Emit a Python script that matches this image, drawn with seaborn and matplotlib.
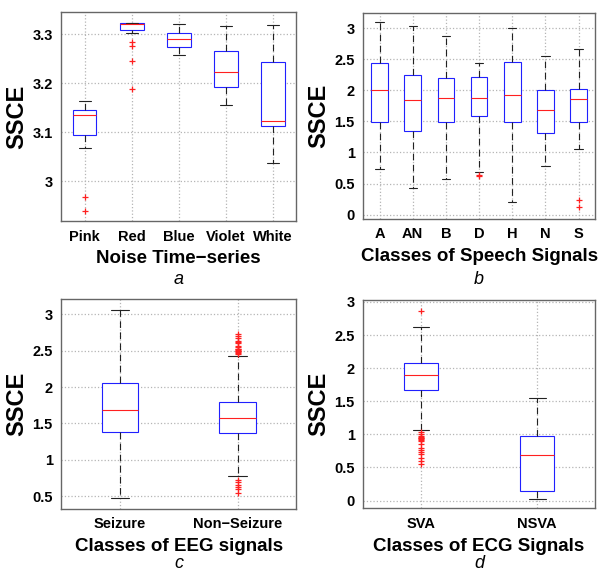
import matplotlib

matplotlib.use("Agg")
import matplotlib.pyplot as plt
import pandas as pd
import seaborn as sns
from matplotlib.ticker import FormatStrFormatter, MultipleLocator

# box statistics: lower whisker, q1, median, q3, upper whisker, outliers
NOISE_CATS = ["Pink", "Red", "Blue", "Violet", "White"]
NOISE_LO = [3.068, 3.303, 3.257, 3.156, 3.037]
NOISE_Q1 = [3.094, 3.309, 3.273, 3.192, 3.113]
NOISE_MED = [3.134, 3.321, 3.290, 3.222, 3.123]
NOISE_Q3 = [3.146, 3.323, 3.303, 3.265, 3.242]
NOISE_HI = [3.164, 3.323, 3.320, 3.316, 3.318]
NOISE_OUT = [[2.967, 2.938], [3.284, 3.275, 3.245, 3.188], [], [], []]

SPEECH_CATS = ["A", "AN", "B", "D", "H", "N", "S"]
SPEECH_LO = [0.73, 0.42, 0.57, 0.69, 0.20, 0.78, 1.05]
SPEECH_Q1 = [1.49, 1.35, 1.49, 1.59, 1.49, 1.31, 1.49]
SPEECH_MED = [2.00, 1.85, 1.88, 1.88, 1.93, 1.68, 1.86]
SPEECH_Q3 = [2.44, 2.25, 2.20, 2.21, 2.46, 2.00, 2.03]
SPEECH_HI = [3.11, 3.04, 2.88, 2.45, 3.00, 2.56, 2.67]
SPEECH_OUT = [[], [], [], [0.64, 0.62], [], [], [0.24, 0.12]]

EEG_CATS = ["Seizure", "Non\u2212Seizure"]
EEG_LO = [0.47, 0.78]
EEG_Q1 = [1.385, 1.37]
EEG_MED = [1.68, 1.58]
EEG_Q3 = [2.06, 1.795]
EEG_HI = [3.065, 2.425]
EEG_OUT = [
    [],
    [2.46, 2.47, 2.48, 2.49, 2.50, 2.51, 2.52, 2.53, 2.55, 2.57, 2.60,
     2.62, 2.64, 2.67, 2.70, 2.73, 0.72, 0.69, 0.66, 0.63, 0.60, 0.55],
]

ECG_CATS = ["SVA", "NSVA"]
ECG_LO = [1.07, 0.025]
ECG_Q1 = [1.674, 0.141]
ECG_MED = [1.896, 0.681]
ECG_Q3 = [2.083, 0.968]
ECG_HI = [2.617, 1.548]
ECG_OUT = [
    [2.864, 1.03, 1.00, 0.98, 0.96, 0.95, 0.94, 0.93, 0.92, 0.90,
     0.85, 0.80, 0.77, 0.73, 0.70, 0.65, 0.60, 0.56],
    [],
]


def stats_table(cats, lo, q1, med, q3, hi, out, rep=200):
    # rebuild a long table whose quartiles and whiskers equal the read values
    rows = []
    for i, cat in enumerate(cats):
        vals = [lo[i]] + [q1[i]] * rep + [med[i]] * rep + [q3[i]] * rep + [hi[i]] + list(out[i])
        rows += [(cat, v) for v in vals]
    return pd.DataFrame(rows, columns=["group", "value"])


def draw_panel(ax, df, cats, width, ylim, step, xlabel, letter, letter_y):
    sns.boxplot(
        data=df, x="group", y="value", order=cats, ax=ax,
        width=width, whis=1.5, color="white", linecolor="black", linewidth=0.8,
        boxprops={"edgecolor": "#2020ff"},
        medianprops={"color": "#ff2020"},
        whiskerprops={"color": "#222222", "linestyle": (0, (6, 4))},
        capprops={"color": "#222222"},
        flierprops={"marker": "+", "markeredgecolor": "#ff2020", "markerfacecolor": "#ff2020",
                    "markersize": 5, "markeredgewidth": 0.9},
    )
    ax.set_xlim(-0.5, len(cats) - 0.5)
    ax.set_ylim(*ylim)
    ax.yaxis.set_major_locator(MultipleLocator(step))
    ax.yaxis.set_major_formatter(FormatStrFormatter("%g"))
    ax.grid(True, linestyle=":", color="#b5b5b5", linewidth=0.9)
    ax.set_axisbelow(True)
    for sp in ax.spines.values():
        sp.set_visible(True)
        sp.set_color("#666666")
        sp.set_linewidth(1.0)
    ax.tick_params(length=0, labelsize=10.5, pad=6, labelcolor="black")
    for lab in ax.get_xticklabels() + ax.get_yticklabels():
        lab.set_fontweight("bold")
    ax.set_ylabel("SSCE", fontsize=17, fontweight="bold", labelpad=3, color="black")
    ax.set_xlabel(xlabel, fontsize=13.5, fontweight="bold", labelpad=5, color="black")
    pos = ax.get_position()
    ax.figure.text((pos.x0 + pos.x1) / 2, letter_y, letter, fontsize=13,
                   style="italic", ha="center", va="center", color="black")


def main() -> None:
    sns.set_style("white")
    plt.rcParams["font.family"] = ["Liberation Sans", "DejaVu Sans"]

    fig = plt.figure(figsize=(6.0, 5.73), dpi=100)
    ax_a = fig.add_axes([0.102, 0.614, 0.392, 0.365])
    ax_b = fig.add_axes([0.605, 0.618, 0.387, 0.360])
    ax_c = fig.add_axes([0.102, 0.112, 0.392, 0.366])
    ax_d = fig.add_axes([0.605, 0.113, 0.387, 0.363])

    noise = stats_table(NOISE_CATS, NOISE_LO, NOISE_Q1, NOISE_MED, NOISE_Q3, NOISE_HI, NOISE_OUT)
    speech = stats_table(SPEECH_CATS, SPEECH_LO, SPEECH_Q1, SPEECH_MED, SPEECH_Q3, SPEECH_HI, SPEECH_OUT)
    eeg = stats_table(EEG_CATS, EEG_LO, EEG_Q1, EEG_MED, EEG_Q3, EEG_HI, EEG_OUT)
    ecg = stats_table(ECG_CATS, ECG_LO, ECG_Q1, ECG_MED, ECG_Q3, ECG_HI, ECG_OUT)

    draw_panel(ax_a, noise, NOISE_CATS, 0.5, (2.918, 3.345), 0.1,
               "Noise Time\u2212series", "a", 1 - 280 / 573)
    draw_panel(ax_b, speech, SPEECH_CATS, 0.5, (-0.07, 3.254), 0.5,
               "Classes of Speech Signals", "b", 1 - 280 / 573)
    draw_panel(ax_c, eeg, EEG_CATS, 0.31, (0.326, 3.21), 0.5,
               "Classes of EEG signals", "c", 1 - 564 / 573)
    draw_panel(ax_d, ecg, ECG_CATS, 0.29, (-0.116, 3.026), 0.5,
               "Classes of ECG Signals", "d", 1 - 564 / 573)

    fig.savefig("out.png", dpi=100)
    plt.close(fig)


if __name__ == "__main__":
    main()
